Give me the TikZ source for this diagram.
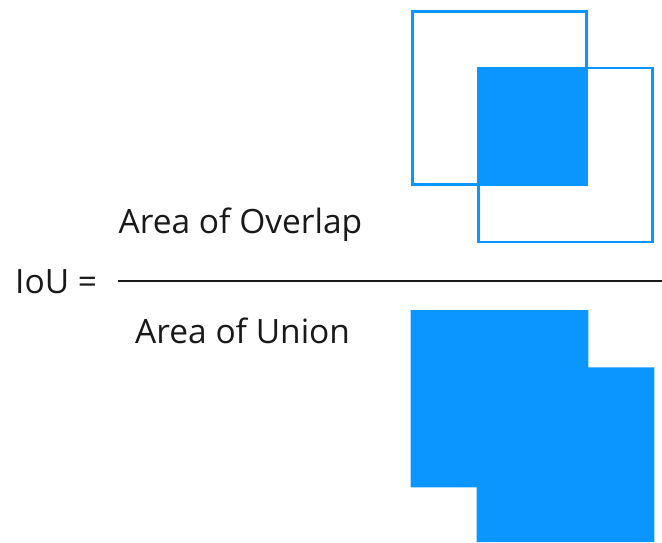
\documentclass[tikz,border=0pt]{standalone}
\usepackage{fontspec}
\setmainfont{Open Sans}
\definecolor{ioublue}{RGB}{11,149,255}
\definecolor{txt}{RGB}{25,25,25}
\begin{document}
\begin{tikzpicture}[x=1pt,y=-1pt,
  boxline/.style={draw=ioublue,line width=2.7pt},
  boxfill/.style={fill=ioublue},
  lbl/.style={anchor=base west,inner sep=0pt,text=txt,font=\fontsize{33.5}{40}\selectfont}]
\useasboundingbox (0,0) rectangle (662,542);
% top: two boxes and their overlap
\draw[boxline] (412.6,11.4) rectangle (586.2,184.6);
\draw[boxline] (478.6,68.1) rectangle (652.6,241.9);
\fill[boxfill] (477.3,66.7) rectangle (587.5,186);
% bottom: union
\fill[boxfill] (410.7,310) -- (588.3,310) -- (588.3,367.3) -- (654.3,367.3)
  -- (654.3,542) -- (476.7,542) -- (476.7,487.3) -- (410.7,487.3) -- cycle;
% texts
\node[lbl] (iou) at (15,293.5) {IoU =};
\node[lbl] (num) at (118.5,233.5) {Area of Overlap};
\node[lbl] (den) at (135,343.3) {Area of Union};
\coordinate (fl) at (118,280.7);
\coordinate (fr) at (662,280.7);
\draw[line width=2.2pt,txt] (fl) -- (fr);
\end{tikzpicture}
\end{document}
